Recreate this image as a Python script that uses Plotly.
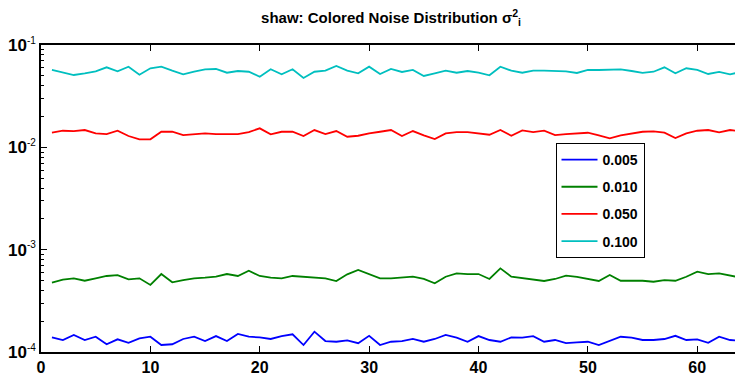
import plotly.graph_objects as go

x_vals = list(range(1, 65))

s_0005 = [1.39e-4, 1.31e-4, 1.47e-4, 1.31e-4, 1.41e-4, 1.19e-4, 1.33e-4, 1.23e-4,
          1.36e-4, 1.41e-4, 1.17e-4, 1.19e-4, 1.34e-4, 1.41e-4, 1.28e-4, 1.43e-4,
          1.28e-4, 1.50e-4, 1.41e-4, 1.39e-4, 1.34e-4, 1.43e-4, 1.49e-4, 1.17e-4,
          1.58e-4, 1.28e-4, 1.26e-4, 1.30e-4, 1.22e-4, 1.44e-4, 1.17e-4, 1.26e-4,
          1.28e-4, 1.34e-4, 1.26e-4, 1.34e-4, 1.47e-4, 1.38e-4, 1.26e-4, 1.43e-4,
          1.31e-4, 1.26e-4, 1.39e-4, 1.38e-4, 1.43e-4, 1.26e-4, 1.31e-4, 1.22e-4,
          1.24e-4, 1.26e-4, 1.17e-4, 1.28e-4, 1.41e-4, 1.38e-4, 1.31e-4, 1.31e-4,
          1.34e-4, 1.44e-4, 1.31e-4, 1.33e-4, 1.23e-4, 1.41e-4, 1.31e-4, 1.28e-4]

s_0010 = [4.76e-4, 5.09e-4, 5.25e-4, 4.97e-4, 5.25e-4, 5.53e-4, 5.65e-4, 5.13e-4,
          5.25e-4, 4.52e-4, 5.78e-4, 4.80e-4, 5.05e-4, 5.25e-4, 5.32e-4, 5.44e-4,
          5.78e-4, 5.53e-4, 6.23e-4, 5.53e-4, 5.32e-4, 5.25e-4, 5.53e-4, 5.44e-4,
          5.32e-4, 5.25e-4, 4.94e-4, 5.74e-4, 6.33e-4, 5.74e-4, 5.25e-4, 5.25e-4,
          5.32e-4, 5.44e-4, 5.17e-4, 4.69e-4, 5.44e-4, 5.87e-4, 5.78e-4, 5.78e-4,
          5.17e-4, 6.57e-4, 5.44e-4, 5.25e-4, 5.13e-4, 4.94e-4, 5.17e-4, 5.57e-4,
          5.41e-4, 5.13e-4, 4.94e-4, 5.65e-4, 4.97e-4, 4.97e-4, 4.97e-4, 4.86e-4,
          5.05e-4, 4.97e-4, 5.44e-4, 6.09e-4, 5.78e-4, 5.87e-4, 5.57e-4, 5.32e-4]

s_0050 = [0.01389, 0.01453, 0.01443, 0.01476, 0.01370, 0.01349, 0.01453, 0.01290,
          0.01197, 0.01197, 0.01420, 0.01420, 0.01319, 0.01340, 0.01370, 0.01349,
          0.01349, 0.01349, 0.01411, 0.01533, 0.01340, 0.01420, 0.01420, 0.01290,
          0.01476, 0.01349, 0.01443, 0.01269, 0.01298, 0.01370, 0.01420, 0.01476,
          0.01290, 0.01443, 0.01310, 0.01205, 0.01370, 0.01411, 0.01411, 0.01370,
          0.01328, 0.01476, 0.01298, 0.01466, 0.01411, 0.01453, 0.01319, 0.01349,
          0.01370, 0.01389, 0.01310, 0.01225, 0.01310, 0.01370, 0.01420, 0.01433,
          0.01389, 0.01233, 0.01370, 0.01453, 0.01476, 0.01401, 0.01476, 0.01433]

s_0100 = [0.0570, 0.0536, 0.0509, 0.0529, 0.0553, 0.0605, 0.0553, 0.0614,
          0.0512, 0.0592, 0.0614, 0.0561, 0.0517, 0.0548, 0.0579, 0.0583,
          0.0536, 0.0557, 0.0548, 0.0490, 0.0579, 0.0517, 0.0579, 0.0476,
          0.0548, 0.0561, 0.0623, 0.0561, 0.0529, 0.0614, 0.0521, 0.0583,
          0.0545, 0.0570, 0.0498, 0.0529, 0.0561, 0.0536, 0.0557, 0.0536,
          0.0506, 0.0614, 0.0561, 0.0536, 0.0561, 0.0561, 0.0561, 0.0553,
          0.0533, 0.0570, 0.0570, 0.0579, 0.0579, 0.0557, 0.0533, 0.0548,
          0.0605, 0.0529, 0.0592, 0.0570, 0.0521, 0.0545, 0.0517, 0.0545]

series_names = ["0.005", "0.010", "0.050", "0.100"]
series_values = [s_0005, s_0010, s_0050, s_0100]
series_colors = ["#0000ff", "#008000", "#ff0000", "#00bfbf"]

x_ticks = [0, 10, 20, 30, 40, 50, 60]
y_tickvals = [1e-4, 1e-3, 1e-2, 1e-1]
y_exponents = ["-4", "-3", "-2", "-1"]
y_ticktext = ["<b>10</b><sup><span style='font-size:10px'>%s</span></sup>" % e
              for e in y_exponents]

fig = go.Figure()
for i, (name, vals, col) in enumerate(zip(series_names, series_values, series_colors)):
    fig.add_trace(go.Scatter(
        x=x_vals, y=vals, mode="lines", name="<b>" + name + "</b>",
        legendgroup="g%d" % i,
        line=dict(color=col, width=1.8),
    ))

font_main = "Liberation Sans, Arial, sans-serif"

# the page body adds an 8px margin, so the figure is sized to fit inside it
W, H = 735, 370

fig.update_layout(
    width=W, height=H,
    margin=dict(l=32, r=0, t=37, b=26),
    paper_bgcolor="white", plot_bgcolor="white",
    font=dict(family=font_main, color="black", size=13),
    title=dict(
        text="<b>shaw: Colored Noise Distribution σ<sup>2</sup><sub>i</sub></b>",
        x=383 / W, xanchor="center", y=1 - 10 / H, yanchor="middle",
        font=dict(family=font_main, size=15, color="black"),
    ),
    showlegend=True,
    legend=dict(
        x=0.735, y=0.681, xanchor="left", yanchor="top",
        bgcolor="white", bordercolor="black", borderwidth=1,
        font=dict(family=font_main, size=14, color="black"),
        tracegroupgap=6,
        itemwidth=36,
    ),
    xaxis=dict(
        range=[0, 64], tickvals=x_ticks,
        ticktext=["<b>%d</b>" % t for t in x_ticks],
        ticks="inside", ticklen=6, tickcolor="black", tickwidth=1,
        showline=True, linecolor="black", linewidth=1.5, mirror="ticks",
        showgrid=False, zeroline=False,
        tickfont=dict(family=font_main, size=16, color="black"),
    ),
    yaxis=dict(
        type="log", range=[-4, -1],
        tickvals=y_tickvals, ticktext=y_ticktext,
        ticks="inside", ticklen=6, tickcolor="black", tickwidth=1,
        showline=True, linecolor="black", linewidth=1.5, mirror="ticks",
        showgrid=False, zeroline=False,
        tickfont=dict(family=font_main, size=17, color="black"),
        minor=dict(ticks="inside", ticklen=3, tickcolor="black", dtick="D1", showgrid=False),
    ),
)

fig.write_html("out.html")
